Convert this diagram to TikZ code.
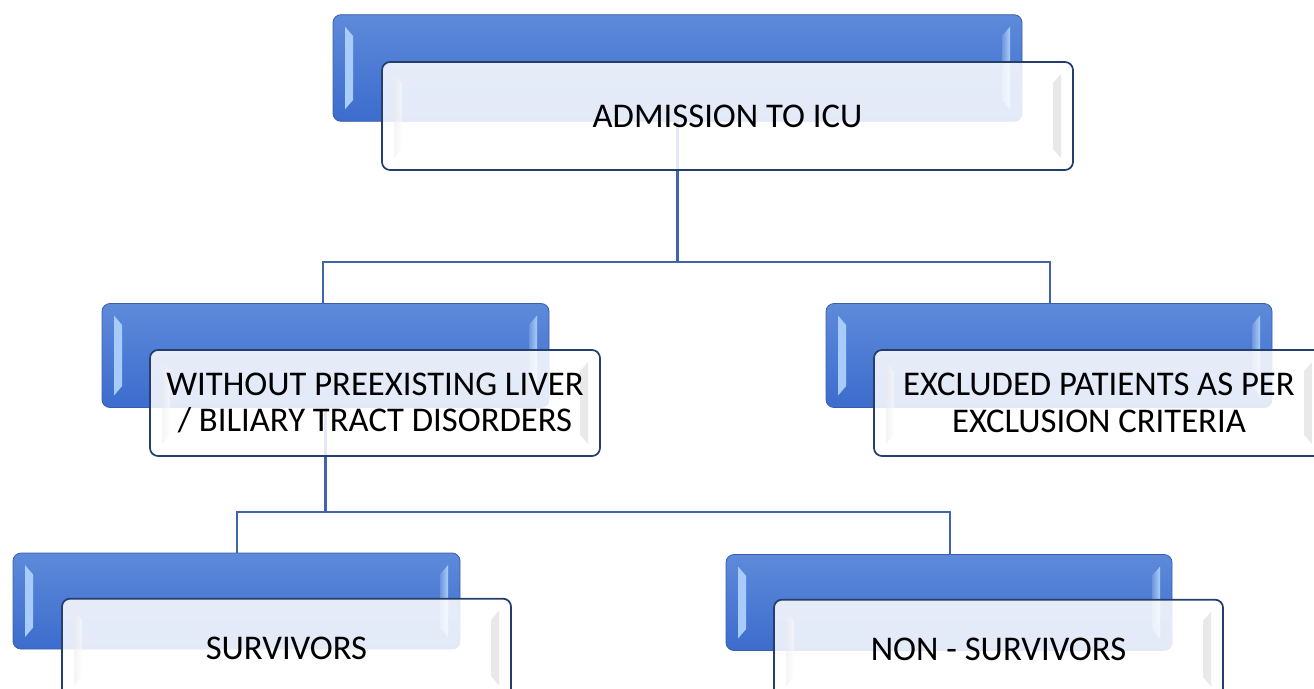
\documentclass[tikz,border=0pt]{standalone}
\usepackage{fontspec}
\setmainfont{Carlito}
\usetikzlibrary{calc}
\definecolor{blueTop}{RGB}{94,138,218}
\definecolor{blueBot}{RGB}{60,108,205}
\definecolor{blueEdge}{RGB}{58,94,170}
\definecolor{bevelLight}{RGB}{170,206,250}
\definecolor{whiteEdge}{RGB}{36,62,110}
\definecolor{connCol}{RGB}{64,100,172}
\tikzset{
  bluebox/.style={rectangle, rounded corners=6pt, draw=blueEdge, line width=0.6pt,
    top color=blueTop, bottom color=blueBot,
    path picture={
      \shade[sharp corners, left color=bevelLight, right color=blueTop!90!white]
        ([xshift=9pt,yshift=-9pt]path picture bounding box.north west) -- ++(6pt,-7pt)
        -- ([xshift=15pt,yshift=16pt]path picture bounding box.south west) -- ++(-6pt,-7pt) -- cycle;
      \shade[sharp corners, right color=bevelLight, left color=blueTop!90!white]
        ([xshift=-9pt,yshift=-9pt]path picture bounding box.north east) -- ++(-6pt,-7pt)
        -- ([xshift=-15pt,yshift=16pt]path picture bounding box.south east) -- ++(6pt,-7pt) -- cycle;
    }},
  whitebox/.style={rectangle, rounded corners=6pt, draw=whiteEdge, line width=1.3pt,
    fill=white, fill opacity=0.86, text opacity=1, align=center,
    font=\fontsize{26}{27.5}\selectfont,
    path picture={
      \shade[sharp corners, left color=white, right color=black!18, opacity=0.5]
        ([xshift=-9pt,yshift=-9pt]path picture bounding box.north east) -- ++(-6pt,-7pt)
        -- ([xshift=-15pt,yshift=16pt]path picture bounding box.south east) -- ++(6pt,-7pt) -- cycle;
      \shade[sharp corners, right color=white, left color=black!8, opacity=0.5]
        ([xshift=9pt,yshift=-9pt]path picture bounding box.north west) -- ++(6pt,-7pt)
        -- ([xshift=15pt,yshift=16pt]path picture bounding box.south west) -- ++(-6pt,-7pt) -- cycle;
    }},
  conn/.style={draw=connCol, line width=1.6pt}
}
\begin{document}
\begin{tikzpicture}[x=0.75pt,y=-0.75pt]
\useasboundingbox (0,0) rectangle (1314,689);
% junction coordinates
\coordinate (j1) at (678,262);
\coordinate (j2) at (325,512);
% connectors (drawn first, under boxes)
\coordinate (b1c) at (677.5,68);
\coordinate (b2c) at (325.5,355.5);
\draw[conn] (b1c) -- (b1c |- j1);
\draw[conn] (323,305) |- (j1) -| (1050,305);
\draw[conn] (b2c) -- (b2c |- j2);
\draw[conn] (237,553) |- (j2) -| (950,556);
% top pair
\node[bluebox, minimum width=516.75pt, minimum height=80pt] (b1) at (677.5,68) {};
\node[whitebox, minimum width=518.25pt, minimum height=81pt] (w1) at (727.5,116) {ADMISSION TO ICU};
% middle left
\node[bluebox, minimum width=335.25pt, minimum height=78pt] (b2) at (325.5,355.5) {};
\node[whitebox, minimum width=337.5pt, minimum height=79.5pt] (w2) at (375,403)
  {WITHOUT PREEXISTING LIVER\\/ BILIARY TRACT DISORDERS};
% middle right
\node[bluebox, minimum width=334.5pt, minimum height=78pt] (b3) at (1049,355.5) {};
\node[whitebox, minimum width=337.5pt, minimum height=79.5pt] (w3) at (1099,403)
  {EXCLUDED PATIENTS AS PER\\EXCLUSION CRITERIA};
% bottom left
\node[bluebox, minimum width=335.25pt, minimum height=72pt] (b4) at (236.5,601) {};
\node[whitebox, minimum width=336.75pt, minimum height=74pt] (w4) at (286.5,648) {SURVIVORS};
% bottom right
\node[bluebox, minimum width=334.5pt, minimum height=72pt] (b5) at (949,602.5) {};
\node[whitebox, minimum width=336.75pt, minimum height=74pt] (w5) at (998.5,649) {NON - SURVIVORS};
\end{tikzpicture}
\end{document}
